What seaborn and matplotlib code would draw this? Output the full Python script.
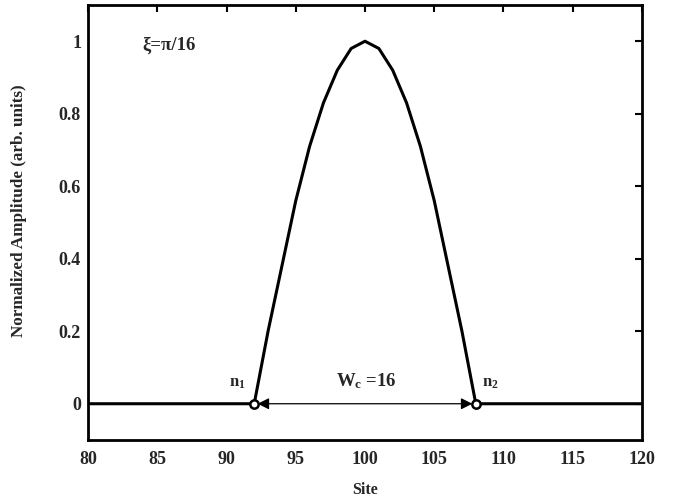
import matplotlib
matplotlib.use("Agg")
import matplotlib.pyplot as plt
import seaborn as sns
import pandas as pd

# Data
sites = list(range(80, 121))
left_zero = [0.0] * 12            # sites 80..91
hump = [0.0, 0.20, 0.38, 0.56, 0.71, 0.83, 0.92, 0.98, 1.0,
        0.98, 0.92, 0.83, 0.71, 0.56, 0.38, 0.20, 0.0]   # sites 92..108
right_zero = [0.0] * 12           # sites 109..120
amplitude = left_zero + hump + right_zero

edge_sites = [92, 108]
edge_values = [0.0, 0.0]
edge_labels = ["n$_{\\mathbf{1}}$", "n$_{\\mathbf{2}}$"]
width_label = "W$_{\\mathbf{c}}$ =16"
xi_label = "ξ=π/16"

xticks = [80, 85, 90, 95, 100, 105, 110, 115, 120]
yticks = [0, 0.2, 0.4, 0.6, 0.8, 1]
ytick_labels = ["0", "0.2", "0.4", "0.6", "0.8", "1"]

df = pd.DataFrame({"Site": sites, "Amp": amplitude})

sns.set_theme(style="white")
plt.rcParams["font.family"] = ["Liberation Serif", "DejaVu Serif"]
plt.rcParams["font.weight"] = "bold"
plt.rcParams["mathtext.fontset"] = "custom"
plt.rcParams["mathtext.rm"] = "Liberation Serif:bold"
plt.rcParams["mathtext.it"] = "Liberation Serif:bold"
plt.rcParams["mathtext.bf"] = "Liberation Serif:bold"

fig = plt.figure(figsize=(6.74, 4.97), dpi=100)
ax = fig.add_axes([0.1306, 0.1147, 0.8219, 0.8753])

sns.lineplot(data=df, x="Site", y="Amp", ax=ax, color="black", linewidth=2.2)
ax.plot(edge_sites, edge_values, linestyle="none", marker="o", markersize=6,
        markerfacecolor="white", markeredgecolor="black", markeredgewidth=1.8, zorder=5)

ax.annotate("", xy=(edge_sites[1] - 0.25, 0), xytext=(edge_sites[0] + 0.25, 0),
            arrowprops=dict(arrowstyle="<|-|>", color="black", lw=0.9,
                            mutation_scale=17, shrinkA=0, shrinkB=0), zorder=4)

ax.text(90.75, 0.035, edge_labels[0], fontsize=12, fontweight="bold", ha="center", va="bottom")
ax.text(109.05, 0.035, edge_labels[1], fontsize=12, fontweight="bold", ha="center", va="bottom")
ax.text(100.1, 0.035, width_label, fontsize=13.5, fontweight="bold", ha="center", va="bottom")
ax.text(83.95, 0.99, xi_label, fontsize=13.5, fontweight="bold", ha="left", va="center")

ax.set_xlim(80, 120)
ax.set_ylim(-0.1, 1.1)
ax.set_xticks(xticks)
ax.set_yticks(yticks)
ax.set_yticklabels(ytick_labels)
ax.set_xlabel("Site", fontsize=11.5, fontweight="bold", labelpad=10)
ax.set_ylabel("Normalized Amplitude (arb. units)", fontsize=12.3, fontweight="bold")
ax.yaxis.set_label_coords(-0.11, 0.528)

ax.tick_params(direction="in", length=5, width=1.5, top=True, right=True,
               labelsize=13, color="black")
ax.tick_params(axis="y", pad=5)
ax.tick_params(axis="x", pad=8)
for lab in ax.get_xticklabels() + ax.get_yticklabels():
    lab.set_fontweight("bold")
for sp in ax.spines.values():
    sp.set_linewidth(2)
    sp.set_color("black")

fig.savefig("out.png", dpi=100)
